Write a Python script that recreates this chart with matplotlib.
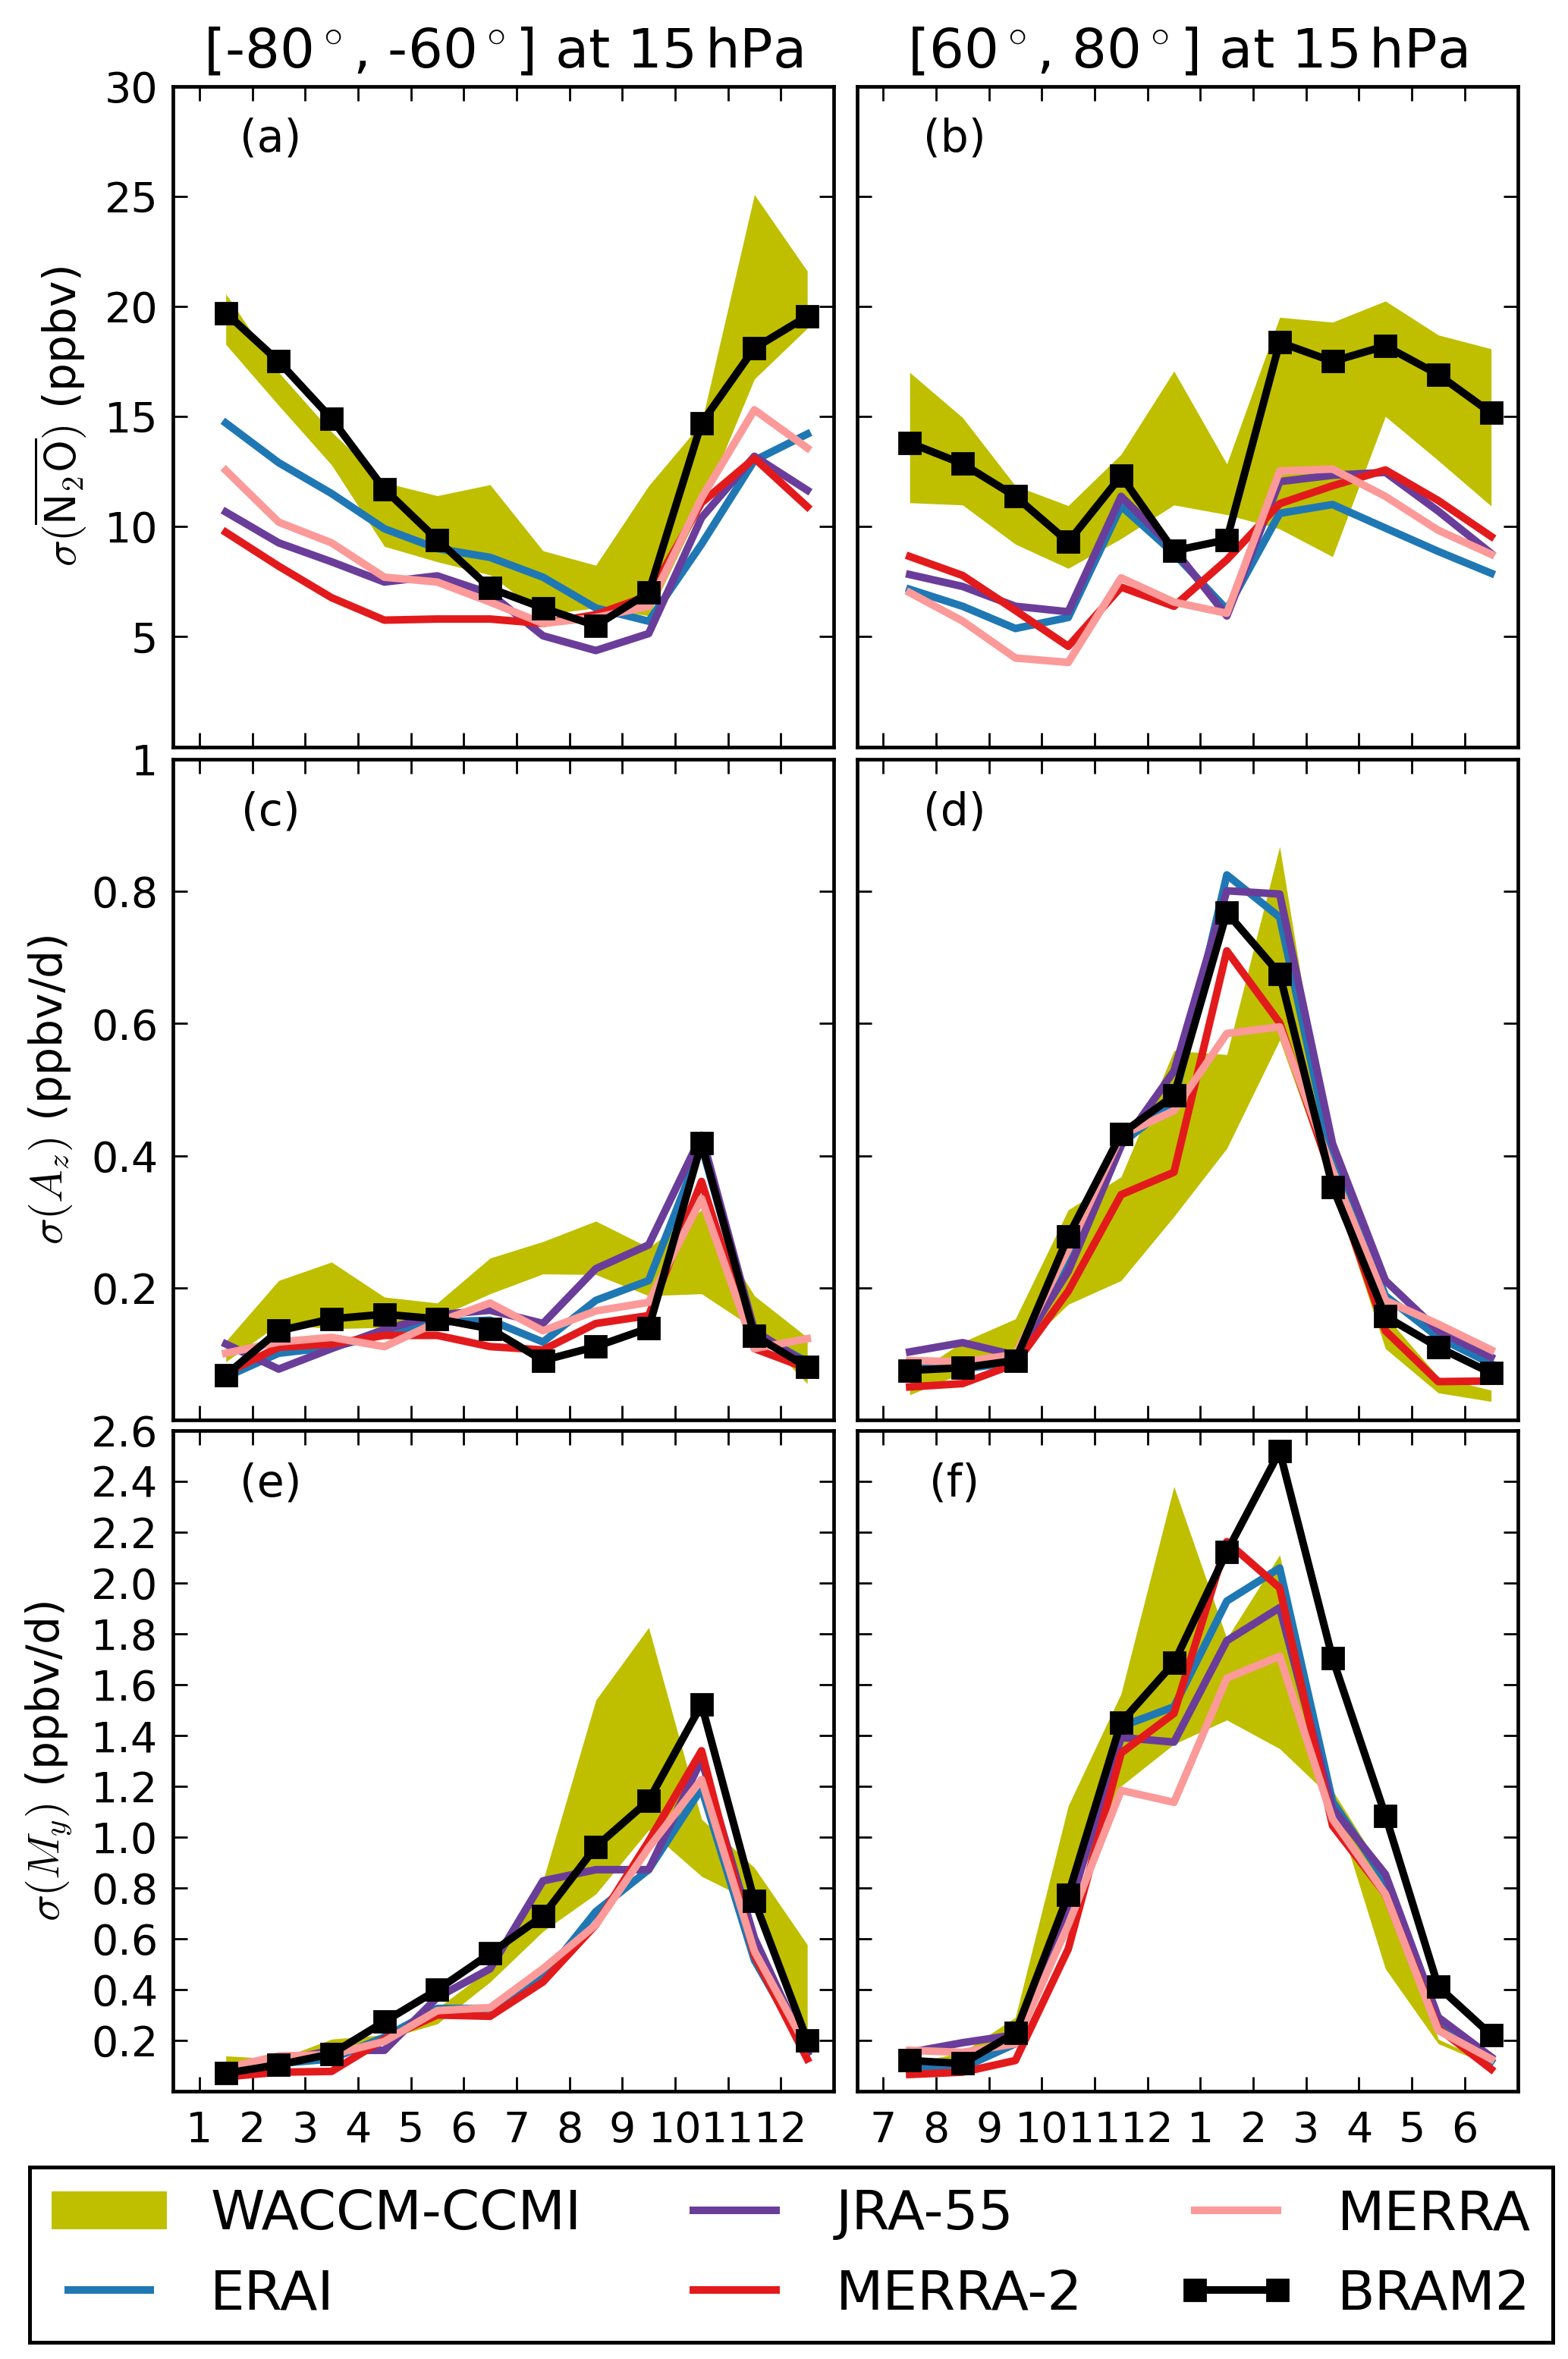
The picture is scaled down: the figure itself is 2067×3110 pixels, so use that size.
import matplotlib
matplotlib.use("Agg")
import matplotlib.pyplot as plt
import numpy as np
from matplotlib.patches import Patch
from matplotlib.lines import Line2D

plt.rcParams['font.family'] = ['DejaVu Sans']
plt.rcParams['mathtext.fontset'] = 'cm'

# ---------------- data ----------------
months_sh = ['1', '2', '3', '4', '5', '6', '7', '8', '9', '10', '11', '12']
months_nh = ['7', '8', '9', '10', '11', '12', '1', '2', '3', '4', '5', '6']

# panel (a)  N2O, [-80,-60]
bram_a = [19.7, 17.5, 14.9, 11.7, 9.4, 7.2, 6.3, 5.5, 7.0, 14.7, 18.1, 19.55]
erai_a = [14.7, 12.9, 11.5, 9.9, 9.0, 8.6, 7.7, 6.3, 5.7, 9.2, 13.0, 14.2]
jra_a = [10.66, 9.26, 8.4, 7.48, 7.76, 6.96, 5.04, 4.37, 5.14, 10.4, 13.19, 11.65]
merra2_a = [9.74, 8.2, 6.77, 5.75, 5.8, 5.8, 5.6, 6.0, 6.86, 11.08, 13.1, 10.9]
merra_a = [12.55, 10.2, 9.26, 7.7, 7.48, 6.57, 5.6, 5.87, 6.38, 11.3, 15.3, 13.57]
waccm_hi_a = [20.57, 17.0, 14.3, 12.0, 11.4, 11.9, 8.9, 8.24, 11.85, 14.7, 25.07, 21.6]
waccm_lo_a = [18.27, 15.5, 12.8, 9.1, 8.4, 7.8, 6.0, 6.3, 5.95, 10.9, 16.7, 19.0]

# panel (b)  N2O, [60,80]
bram_b = [13.8, 12.85, 11.37, 9.3, 12.3, 8.9, 9.4, 18.36, 17.5, 18.2, 16.9, 15.16]
erai_b = [7.15, 6.38, 5.37, 5.87, 10.93, 8.78, 6.23, 10.6, 11.0, 9.93, 8.87, 7.88]
jra_b = [7.82, 7.28, 6.38, 6.13, 11.37, 8.97, 5.94, 12.04, 12.33, 12.46, 10.7, 8.78]
merra2_b = [8.64, 7.78, 6.19, 4.56, 7.25, 6.38, 8.49, 11.04, 11.85, 12.57, 11.18, 9.55]
merra_b = [7.0, 5.71, 4.03, 3.83, 7.67, 6.57, 6.06, 12.52, 12.61, 11.37, 9.83, 8.74]
waccm_hi_b = [17.0, 14.95, 11.85, 10.95, 13.28, 17.06, 12.84, 19.5, 19.28, 20.24, 18.7, 18.07]
waccm_lo_b = [11.08, 10.98, 9.2, 8.1, 9.45, 10.98, 10.54, 9.89, 8.63, 15.0, 13.0, 10.93]

# panel (c)  Az, [-80,-60]
bram_c = [0.068, 0.135, 0.153, 0.16, 0.153, 0.138, 0.09, 0.111, 0.139, 0.419, 0.128, 0.08]
erai_c = [0.065, 0.101, 0.11, 0.13, 0.148, 0.151, 0.118, 0.181, 0.211, 0.415, 0.131, 0.088]
jra_c = [0.115, 0.077, 0.108, 0.137, 0.159, 0.166, 0.146, 0.229, 0.265, 0.431, 0.135, 0.085]
merra2_c = [0.071, 0.11, 0.115, 0.128, 0.128, 0.111, 0.106, 0.146, 0.158, 0.361, 0.108, 0.078]
merra_c = [0.101, 0.118, 0.125, 0.111, 0.148, 0.177, 0.135, 0.165, 0.178, 0.335, 0.108, 0.123]
waccm_hi_c = [0.119, 0.211, 0.239, 0.186, 0.177, 0.245, 0.27, 0.301, 0.261, 0.318, 0.188, 0.125]
waccm_lo_c = [0.088, 0.145, 0.138, 0.14, 0.155, 0.191, 0.221, 0.22, 0.188, 0.191, 0.138, 0.055]

# panel (d)  Az, [60,80]
bram_d = [0.075, 0.079, 0.09, 0.278, 0.433, 0.491, 0.768, 0.675, 0.353, 0.157, 0.11, 0.071]
erai_d = [0.085, 0.077, 0.088, 0.238, 0.418, 0.481, 0.825, 0.761, 0.391, 0.188, 0.125, 0.085]
jra_d = [0.103, 0.117, 0.098, 0.225, 0.415, 0.528, 0.801, 0.796, 0.418, 0.211, 0.135, 0.095]
merra2_d = [0.05, 0.055, 0.085, 0.195, 0.341, 0.375, 0.71, 0.601, 0.365, 0.135, 0.058, 0.059]
merra_d = [0.09, 0.088, 0.099, 0.258, 0.431, 0.468, 0.585, 0.595, 0.378, 0.181, 0.145, 0.106]
waccm_hi_d = [0.065, 0.118, 0.153, 0.318, 0.368, 0.559, 0.553, 0.868, 0.378, 0.158, 0.065, 0.045]
waccm_lo_d = [0.038, 0.071, 0.098, 0.175, 0.211, 0.308, 0.411, 0.575, 0.351, 0.108, 0.041, 0.028]

# panel (e)  My, [-80,-60]
bram_e = [0.071, 0.104, 0.147, 0.274, 0.399, 0.542, 0.69, 0.962, 1.144, 1.522, 0.75, 0.201]
erai_e = [0.066, 0.109, 0.127, 0.213, 0.326, 0.326, 0.447, 0.707, 0.872, 1.192, 0.516, 0.153]
jra_e = [0.083, 0.118, 0.161, 0.161, 0.369, 0.482, 0.828, 0.872, 0.872, 1.305, 0.603, 0.153]
merra2_e = [0.057, 0.075, 0.078, 0.205, 0.3, 0.295, 0.43, 0.655, 0.984, 1.34, 0.534, 0.127]
merra_e = [0.092, 0.139, 0.144, 0.196, 0.317, 0.329, 0.482, 0.655, 0.958, 1.227, 0.551, 0.17]
waccm_hi_e = [0.139, 0.127, 0.205, 0.222, 0.326, 0.482, 0.828, 1.539, 1.825, 1.071, 0.88, 0.577]
waccm_lo_e = [0.1, 0.1, 0.153, 0.205, 0.265, 0.43, 0.629, 0.776, 1.028, 0.846, 0.742, 0.205]

# panel (f)  My, [60,80]
bram_f = [0.121, 0.109, 0.23, 0.773, 1.452, 1.686, 2.123, 2.518, 1.704, 1.085, 0.412, 0.222]
erai_f = [0.1, 0.092, 0.187, 0.742, 1.435, 1.513, 1.929, 2.059, 1.14, 0.828, 0.256, 0.118]
jra_f = [0.153, 0.191, 0.222, 0.707, 1.392, 1.374, 1.773, 1.903, 1.114, 0.854, 0.291, 0.135]
merra2_f = [0.066, 0.075, 0.121, 0.56, 1.331, 1.487, 2.163, 1.981, 1.045, 0.776, 0.248, 0.087]
merra_f = [0.161, 0.153, 0.187, 0.655, 1.184, 1.137, 1.626, 1.712, 1.071, 0.776, 0.239, 0.127]
waccm_hi_f = [0.109, 0.153, 0.291, 1.123, 1.565, 2.38, 1.782, 2.111, 1.184, 0.85, 0.205, 0.109]
waccm_lo_f = [0.066, 0.1, 0.222, 0.742, 1.201, 1.366, 1.461, 1.348, 1.15, 0.482, 0.187, 0.1]

titles = [r'[-80$^\circ$, -60$^\circ$] at 15$\,$hPa', r'[60$^\circ$, 80$^\circ$] at 15$\,$hPa']
ylabels = [r'$\sigma(\overline{\mathsf{N_2O}})$ (ppbv)', r'$\sigma(A_z)$ (ppbv/d)', r'$\sigma(M_y)$ (ppbv/d)']
panel_letters = ['(a)', '(b)', '(c)', '(d)', '(e)', '(f)']
yticks_rows = [[5, 10, 15, 20, 25, 30],
               [0.2, 0.4, 0.6, 0.8, 1.0],
               [0.2, 0.4, 0.6, 0.8, 1.0, 1.2, 1.4, 1.6, 1.8, 2.0, 2.2, 2.4, 2.6]]
yticklabels_rows = [['5', '10', '15', '20', '25', '30'],
                    ['0.2', '0.4', '0.6', '0.8', '1'],
                    ['0.2', '0.4', '0.6', '0.8', '1.0', '1.2', '1.4', '1.6', '1.8', '2.0', '2.2', '2.4', '2.6']]
ylims = [(0, 30), (0, 1.0), (0, 2.6)]
series_names = ['WACCM-CCMI', 'ERAI', 'JRA-55', 'MERRA-2', 'MERRA', 'BRAM2']

panels = [
    (waccm_lo_a, waccm_hi_a, erai_a, jra_a, merra2_a, merra_a, bram_a),
    (waccm_lo_b, waccm_hi_b, erai_b, jra_b, merra2_b, merra_b, bram_b),
    (waccm_lo_c, waccm_hi_c, erai_c, jra_c, merra2_c, merra_c, bram_c),
    (waccm_lo_d, waccm_hi_d, erai_d, jra_d, merra2_d, merra_d, bram_d),
    (waccm_lo_e, waccm_hi_e, erai_e, jra_e, merra2_e, merra_e, bram_e),
    (waccm_lo_f, waccm_hi_f, erai_f, jra_f, merra2_f, merra_f, bram_f),
]

# ---------------- style ----------------
c_waccm = (0.75, 0.75, 0.0)
c_erai = '#1f78b4'
c_jra = '#6a3d9a'
c_merra2 = '#e31a1c'
c_merra = '#fb9a99'
lw = 3.6

W, H = 2067, 3110
fig = plt.figure(figsize=(W / 200, H / 200), dpi=200)

col_left = [228 / W, 1129.5 / W]
col_w = 871 / W
row_top = [113.5, 1001, 1886]
row_h = 871

x = np.arange(1, 13) + 0.5

for i, pdata in enumerate(panels):
    r, c = divmod(i, 2)
    top = row_top[r]
    ax = fig.add_axes([col_left[c], 1 - (top + row_h) / H, col_w, row_h / H])
    lo, hi, erai, jra, merra2, merra, bram = pdata
    ax.fill_between(x, lo, hi, color=c_waccm, linewidth=0, zorder=1)
    ax.plot(x, erai, color=c_erai, lw=lw, zorder=2)
    ax.plot(x, jra, color=c_jra, lw=lw, zorder=3)
    ax.plot(x, merra2, color=c_merra2, lw=lw, zorder=4)
    ax.plot(x, merra, color=c_merra, lw=lw, zorder=5)
    ax.plot(x, bram, color='k', lw=lw, marker='s', ms=10, zorder=6)

    ax.set_xlim(0.5, 13)
    ax.set_ylim(*ylims[r])
    ax.set_xticks(np.arange(1, 13))
    ax.set_yticks(yticks_rows[r])
    if r == 2:
        ax.set_xticklabels(months_sh if c == 0 else months_nh)
    else:
        ax.set_xticklabels([])
    if c == 0:
        ax.set_yticklabels(yticklabels_rows[r])
        ax.set_ylabel(ylabels[r], fontsize=21, labelpad=8)
    else:
        ax.set_yticklabels([])
    if r == 0:
        ax.set_title(titles[c], fontsize=26, pad=9)
    ax.tick_params(direction='in', top=True, right=True, length=7, width=1.0,
                   labelsize=20, pad=7)
    ax.tick_params(axis='x', pad=9)
    for sp in ax.spines.values():
        sp.set_linewidth(1.7)
    ax.text(0.148, 0.92, panel_letters[i], transform=ax.transAxes,
            fontsize=21, ha='center', va='center')

handles = [Patch(facecolor=c_waccm, edgecolor='none'),
           Line2D([], [], color=c_erai, lw=lw),
           Line2D([], [], color=c_jra, lw=lw),
           Line2D([], [], color=c_merra2, lw=lw),
           Line2D([], [], color=c_merra, lw=lw),
           Line2D([], [], color='k', lw=lw, marker='s', ms=10)]
leg = fig.legend(handles, series_names, ncol=3, mode='expand',
                 bbox_to_anchor=(39 / W, 1 - 3091 / H, (2047 - 39) / W, (3091 - 2854) / H),
                 loc='center', fontsize=26, numpoints=2, handlelength=2.1,
                 fancybox=False, framealpha=1, borderaxespad=0)
leg.get_frame().set_edgecolor('k')
leg.get_frame().set_linewidth(1.8)

fig.savefig('out.png', dpi=200)
